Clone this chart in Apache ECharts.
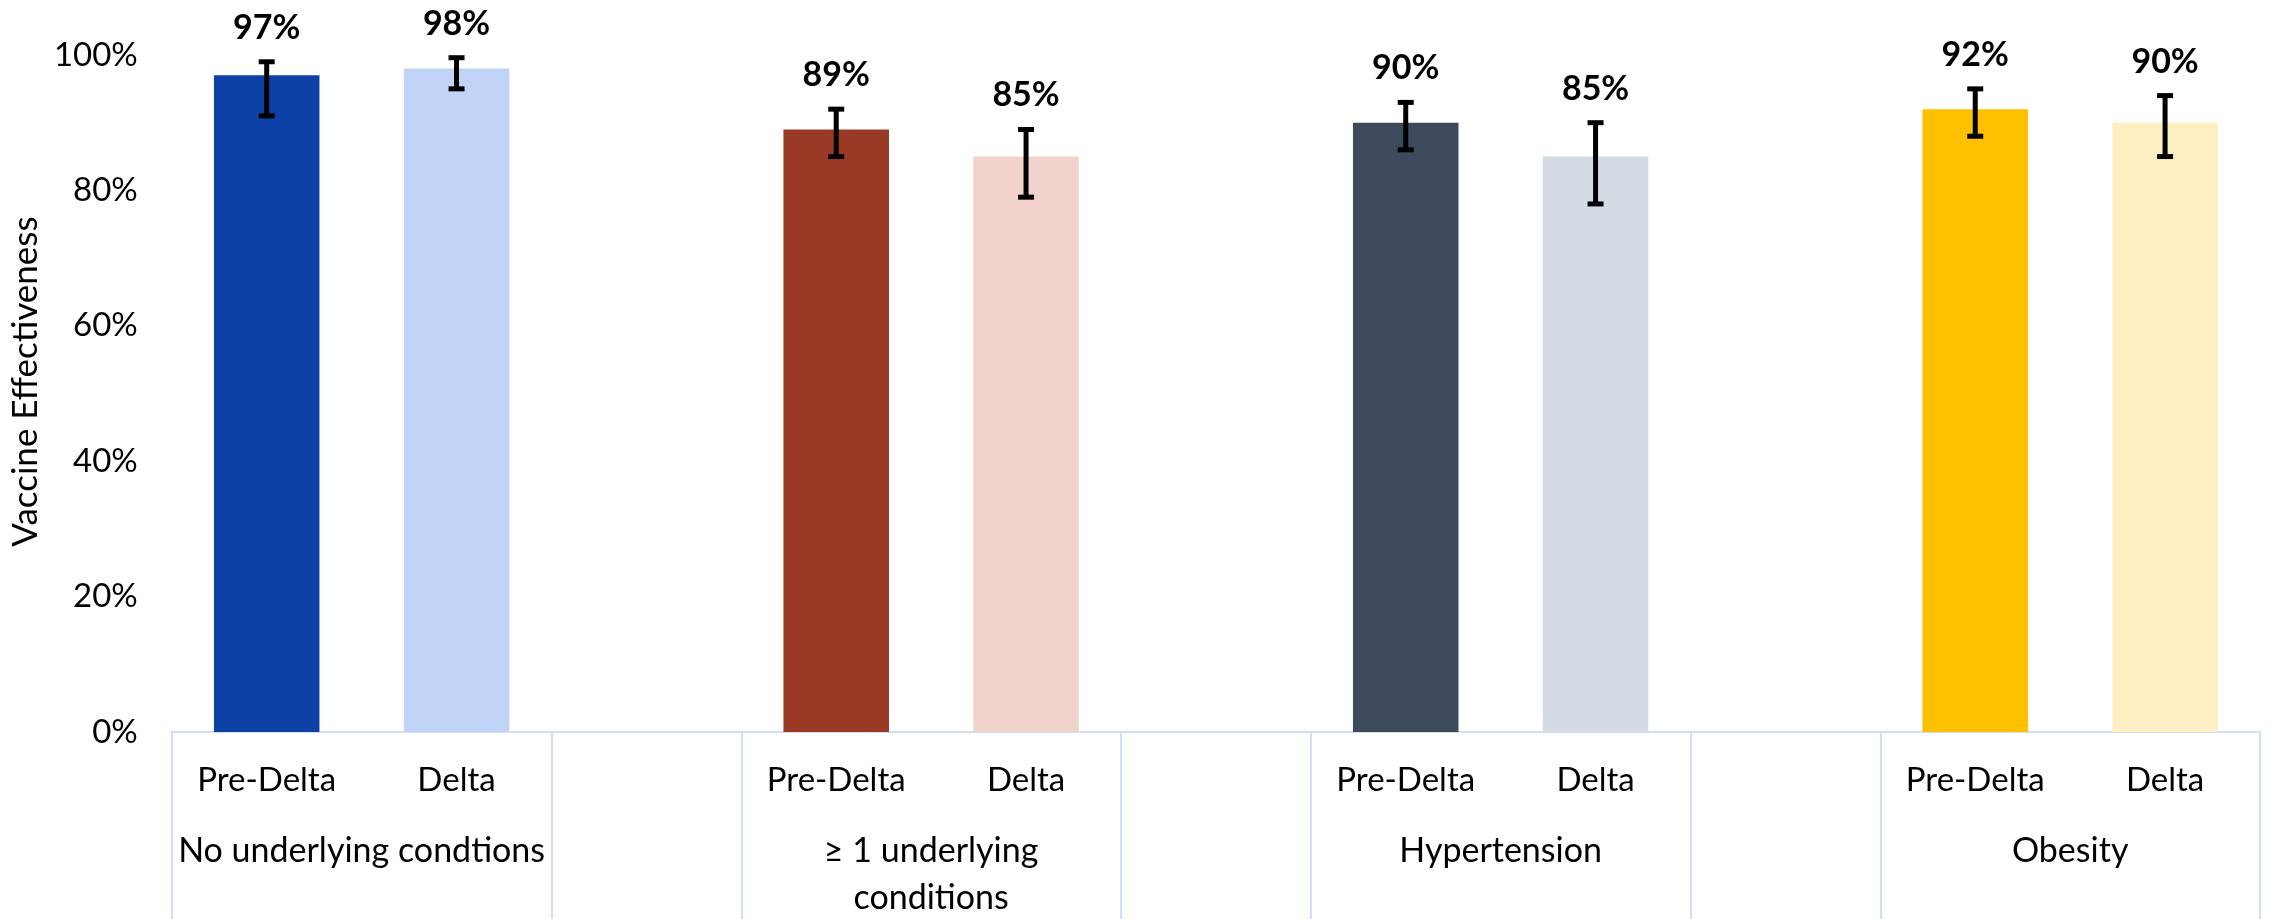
<!DOCTYPE html>
<html>
<head>
<meta charset="utf-8">
<script src="https://cdn.jsdelivr.net/npm/echarts@6/dist/echarts.min.js"></script>
<style>html,body{margin:0;padding:0;background:#fff}#c{width:2269px;height:919px}</style>
</head>
<body>
<div id="c"></div>
<script>
const categories = ['Pre-Delta','Delta','','Pre-Delta','Delta','','Pre-Delta','Delta','','Pre-Delta','Delta'];
const values = [97, 98, null, 89, 85, null, 90, 85, null, 92, 90];
const ciLow = [91, 95, null, 85, 79, null, 86, 78, null, 88, 85];
const ciHigh = [99, 99.6, null, 92, 89, null, 93, 90, null, 95, 94];
const barColors = ['#0D41A5','#C1D4F8',null,'#9A3A26','#F1D3CC',null,'#3C4A5B','#D4DBE4',null,'#FFC000','#FEEFC3'];
const groupNames = ['No underlying condtions','\u2265 1 underlying\nconditions','Hypertension','Obesity'];
const groupSlots = [[0,1],[3,4],[6,7],[9,10]];
const separatorSlots = [0,2,3,5,6,8,9];

const FONT = 'Lato';
const chart = echarts.init(document.getElementById('c'), null, {renderer:'canvas'});

const barData = values.map((v,i)=> v==null ? '-' : {value:v, itemStyle:{color:barColors[i]}});
const errData = [];
values.forEach((v,i)=>{ if(v!=null) errData.push([i, ciLow[i], ciHigh[i], v]); });
const grpData = groupSlots.map((s,k)=>[s[0], 0, s[1], k]);

chart.setOption({
  animation:false,
  backgroundColor:'#fff',
  grid:{left:171, right:9, top:55, bottom:187, containLabel:false},
  xAxis:{
    type:'category',
    data:categories,
    boundaryGap:true,
    axisLine:{show:true, lineStyle:{color:'#D0DEF7', width:2}},
    axisTick:{show:true, length:190, interval:(idx)=>separatorSlots.indexOf(idx)>=0, lineStyle:{color:'#D0DEF7', width:2}},
    axisLabel:{interval:0, margin:32, color:'#000', fontFamily:FONT, fontSize:33},
    splitLine:{show:false}
  },
  yAxis:{
    type:'value', min:0, max:100, interval:20,
    name:'Vaccine Effectiveness', nameLocation:'middle', nameGap:128,
    nameTextStyle:{color:'#000', fontFamily:FONT, fontSize:35, padding:[0,0,0,24]},
    axisLine:{show:false}, axisTick:{show:false}, splitLine:{show:false},
    axisLabel:{formatter:'{value}%', margin:34, color:'#000', fontFamily:FONT, fontSize:33}
  },
  series:[
    {type:'bar', data:barData, barWidth:'55.6%'},
    {type:'custom', data:errData, encode:{x:0, y:[1,2]}, clip:false, z:5,
     renderItem:(params, api)=>{
       const x = api.value(0);
       const lo = api.coord([x, api.value(1)]);
       const hi = api.coord([x, api.value(2)]);
       const cx = lo[0];
       const st = {stroke:'#000', lineWidth:5};
       return {type:'group', children:[
         {type:'line', shape:{x1:cx, y1:lo[1], x2:cx, y2:hi[1]}, style:st},
         {type:'line', shape:{x1:cx-8, y1:lo[1], x2:cx+8, y2:lo[1]}, style:st},
         {type:'line', shape:{x1:cx-8, y1:hi[1], x2:cx+8, y2:hi[1]}, style:st},
         {type:'text', style:{text:api.value(3)+'%', x:cx, y:hi[1]-34, align:'center', verticalAlign:'middle',
           fill:'#000', font:'bold 34px '+FONT}}
       ]};
     }},
    {type:'custom', data:grpData, encode:{x:[0,2], y:1}, clip:false, z:5,
     renderItem:(params, api)=>{
       const a = api.coord([api.value(0), 0]);
       const b = api.coord([api.value(2), 0]);
       return {type:'text', style:{text:groupNames[api.value(3)], x:(a[0]+b[0])/2, y:a[1]+96,
         align:'center', verticalAlign:'top', lineHeight:47, fill:'#000', font:'34px '+FONT}};
     }}
  ]
});
</script>
</body>
</html>
